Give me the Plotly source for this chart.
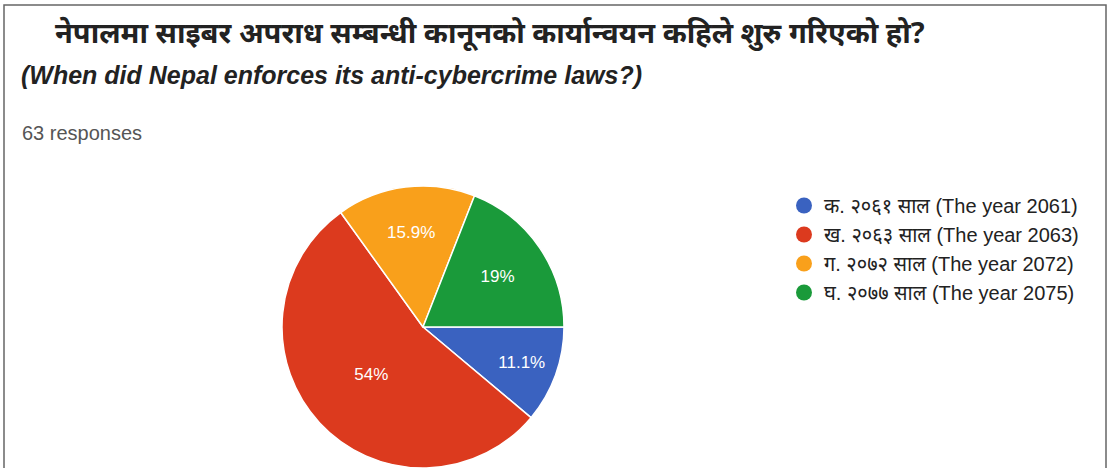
import plotly.graph_objects as go

categories = ["क. २०६१ साल (The year 2061)", "ख. २०६३ साल (The year 2063)",
              "ग. २०७२ साल (The year 2072)", "घ. २०७७ साल (The year 2075)"]
counts = [7, 34, 10, 12]
colors = ["#3a62c0", "#dc3a1e", "#f9a01b", "#1a9a3a"]
title_np = "नेपालमा साइबर अपराध सम्बन्धी कानूनको कार्यान्वयन कहिले शुरु गरिएको हो?"
title_en = "(When did Nepal enforces its anti-cybercrime laws?)"
responses = "63 responses"

W, H = 1110, 468
fig = go.Figure()
cx, cy, r = 423, 328, 142
fig.add_trace(go.Pie(
    labels=categories, values=counts, sort=False, direction="clockwise", rotation=90,
    marker=dict(colors=colors, line=dict(color="white", width=1.5)),
    textinfo="percent", texttemplate="%{percent:.3~p}", textposition="inside",
    insidetextorientation="horizontal",
    textfont=dict(color="white", size=17, family="Arial, Liberation Sans"),
    showlegend=False, hoverinfo="label+percent",
    domain=dict(x=[(cx - r) / W, (cx + r) / W], y=[max(0, (H - cy - r) / H), (H - cy + r) / H]),
))
for c, col in zip(categories, colors):
    fig.add_trace(go.Scatter(x=[None], y=[None], mode="markers", name=c,
                             marker=dict(symbol="circle", size=19, color=col)))

fig.update_layout(
    width=W, height=H, margin=dict(l=0, r=0, t=0, b=0),
    paper_bgcolor="white", plot_bgcolor="white",
    xaxis=dict(visible=False), yaxis=dict(visible=False),
    legend=dict(x=784 / W, y=1 - 186 / H, xanchor="left", yanchor="top",
                font=dict(size=20, color="#222", family="Arial, Liberation Sans, Noto Sans"),
                itemwidth=30, tracegroupgap=0, bgcolor="rgba(0,0,0,0)"),
    font=dict(family="Arial, Liberation Sans, Noto Sans"),
    shapes=[dict(type="rect", xref="paper", yref="paper", x0=4 / W, x1=1106 / W,
                 y0=-0.05, y1=1 - 5 / H, line=dict(color="#666", width=1.5))],
    annotations=[
        dict(text="<b>" + title_np + "</b>", x=53 / W, y=1 - 32 / H, xref="paper", yref="paper",
             xanchor="left", yanchor="middle", showarrow=False,
             font=dict(size=29, color="#222", family="Noto Sans, Arial")),
        dict(text="<b><i>" + title_en + "</i></b>", x=19 / W, y=1 - 75 / H, xref="paper", yref="paper",
             xanchor="left", yanchor="middle", showarrow=False,
             font=dict(size=25, color="#222", family="Arial, Liberation Sans")),
        dict(text=responses, x=20 / W, y=1 - 133 / H, xref="paper", yref="paper",
             xanchor="left", yanchor="middle", showarrow=False,
             font=dict(size=20, color="#555", family="Arial, Liberation Sans")),
    ],
)
fig.write_html("out.html")
